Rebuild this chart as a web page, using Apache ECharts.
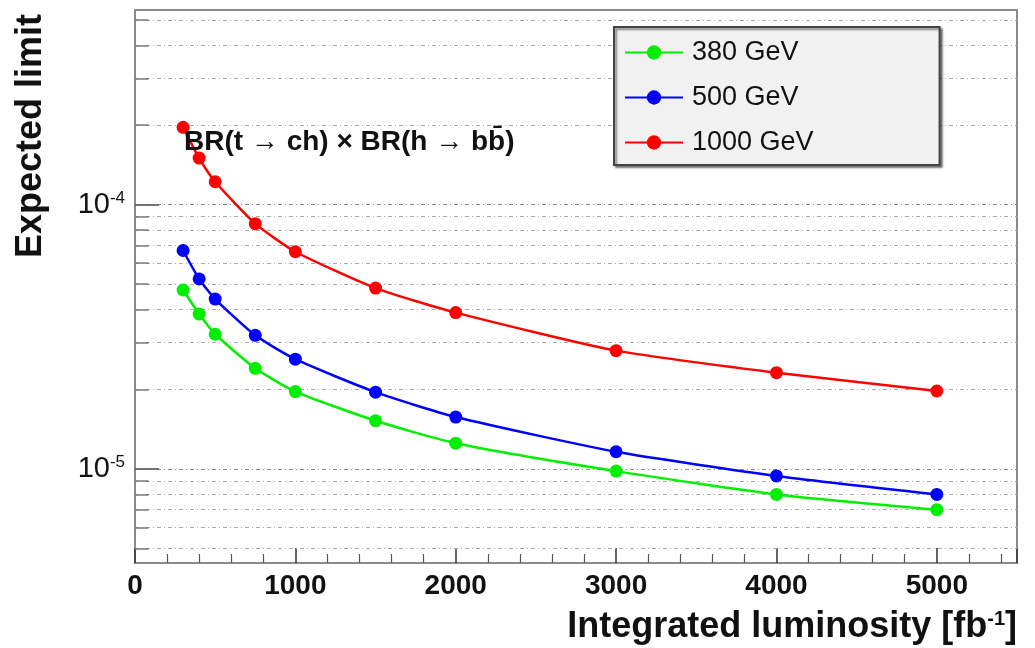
<!DOCTYPE html>
<html>
<head>
<meta charset="utf-8">
<script src="https://cdn.jsdelivr.net/npm/echarts@6/dist/echarts.min.js"></script>
<style>
  html, body { margin: 0; padding: 0; background: #fff; }
  #chart { width: 1035px; height: 648px; }
</style>
</head>
<body>
<div id="chart"></div>
<script>
// Integrated luminosity points (fb^-1)
const luminosity = [300, 400, 500, 750, 1000, 1500, 2000, 3000, 4000, 5000];

// Expected limit on BR(t -> ch) x BR(h -> bb) per centre-of-mass energy
const limit380 = [4.75e-5, 3.85e-5, 3.23e-5, 2.40e-5, 1.96e-5, 1.52e-5, 1.25e-5, 9.8e-6, 8.0e-6, 7.0e-6];
const limit500 = [6.7e-5, 5.23e-5, 4.39e-5, 3.2e-5, 2.6e-5, 1.95e-5, 1.57e-5, 1.16e-5, 9.4e-6, 8.0e-6];
const limit1000 = [1.96e-4, 1.50e-4, 1.22e-4, 8.47e-5, 6.63e-5, 4.83e-5, 3.9e-5, 2.8e-5, 2.31e-5, 1.97e-5];

const seriesNames = ['380 GeV', '500 GeV', '1000 GeV'];
const seriesColors = ['#00ee00', '#0000ff', '#ff0000'];

// Horizontal grid levels on the log axis (decades and their 2..9 subdivisions)
const decadeLevels = [1e-5, 1e-4];
const minorLevels = [5e-6, 6e-6, 7e-6, 8e-6, 9e-6,
                     2e-5, 3e-5, 4e-5, 5e-5, 6e-5, 7e-5, 8e-5, 9e-5,
                     2e-4, 3e-4, 4e-4, 5e-4];

const X_MIN = 0, X_MAX = 5500;
const FONT = 'Liberation Sans, Arial, Helvetica, sans-serif';

const chart = echarts.init(document.getElementById('chart'), null, { renderer: 'canvas' });

function pairUp(ys) {
  return luminosity.map((x, i) => [x, ys[i]]);
}

function hLine(v, x0, x1, style) {
  return [{ coord: [x0, v] }, { coord: [x1, v], lineStyle: style }];
}

const minorGridStyle = { color: '#aaaaaa', width: 1, type: [4, 3, 1, 3] };
const majorGridStyle = { color: '#8c8c8c', width: 1.2, type: [4, 3, 1, 3] };

const gridLineData = []
  .concat(minorLevels.map(v => hLine(v, X_MIN, X_MAX, minorGridStyle)))
  .concat(decadeLevels.map(v => hLine(v, X_MIN, X_MAX, majorGridStyle)));

// short solid ticks on the inner side of the left frame
const leftTickData = []
  .concat(minorLevels.map(v => hLine(v, X_MIN, 85, { color: '#777', width: 1.5, type: 'solid' })))
  .concat(decadeLevels.map(v => hLine(v, X_MIN, 150, { color: '#666', width: 1.8, type: 'solid' })));

const dataSeries = [limit380, limit500, limit1000].map((ys, i) => ({
  name: seriesNames[i],
  type: 'line',
  data: pairUp(ys),
  symbol: 'circle',
  symbolSize: 13,
  smooth: 0.2,
  z: 3,
  itemStyle: { color: seriesColors[i] },
  lineStyle: { color: seriesColors[i], width: 2.5 },
  animation: false
}));

const option = {
  backgroundColor: '#ffffff',
  animation: false,
  grid: {
    left: 135, right: 18, top: 10, bottom: 85,
    show: true,
    borderColor: '#8a8a8a',
    borderWidth: 2,
    backgroundColor: '#ffffff'
  },
  legend: {
    data: seriesNames,
    orient: 'vertical',
    left: 614,
    top: 27,
    padding: [10, 126, 7, 10],
    itemWidth: 58,
    itemHeight: 18,
    itemGap: 14,
    backgroundColor: '#f1f1f1',
    borderColor: '#444',
    borderWidth: 2,
    shadowColor: 'rgba(0,0,0,0.45)',
    shadowOffsetX: 2,
    shadowOffsetY: 2,
    shadowBlur: 2,
    selectedMode: false,
    textStyle: { fontFamily: FONT, fontSize: 27, color: '#111', lineHeight: 31, padding: [0, 0, 0, 4] }
  },
  xAxis: {
    type: 'value',
    min: X_MIN,
    max: X_MAX,
    interval: 1000,
    name: 'Integrated luminosity [fb{sup|-1}]',
    nameLocation: 'end',
    nameGap: 0,
    nameTextStyle: {
      fontFamily: FONT, fontSize: 36, fontWeight: 'bold', color: '#111',
      align: 'right', verticalAlign: 'top', padding: [46, 0, 0, 0],
      rich: {
        sup: { fontFamily: FONT, fontSize: 20, fontWeight: 'bold', color: '#111', verticalAlign: 'top', lineHeight: 20 }
      }
    },
    axisLine: { show: false },
    axisTick: { show: true, inside: true, length: 15, lineStyle: { color: '#333', width: 1.5 } },
    minorTick: { show: true, splitNumber: 5, length: 9, lineStyle: { color: '#555', width: 1.2 } },
    axisLabel: {
      showMaxLabel: false,
      margin: 9,
      formatter: function (v) { return String(v); },
      fontFamily: FONT, fontSize: 28, fontWeight: 'bold', color: '#111'
    },
    splitLine: { show: false }
  },
  yAxis: {
    type: 'log',
    logBase: 10,
    min: 4.4e-6,
    max: 5.45e-4,
    axisLine: { show: false },
    axisTick: { show: false },
    splitLine: { show: false },
    minorTick: { show: false },
    axisLabel: {
      showMinLabel: false,
      showMaxLabel: false,
      margin: 10,
      formatter: function (v) {
        const e = Math.log10(v);
        const r = Math.round(e);
        if (Math.abs(e - r) > 1e-6) return '';
        return '{b|10}{s|' + r + '}';
      },
      rich: {
        b: { fontFamily: FONT, fontSize: 29, color: '#111', lineHeight: 30 },
        s: { fontFamily: FONT, fontSize: 17, color: '#111', lineHeight: 18, verticalAlign: 'top' }
      }
    }
  },
  graphic: [
    {
      type: 'text',
      x: 31, y: 136,
      rotation: Math.PI / 2,
      z: 10,
      style: {
        text: 'Expected limit',
        fontFamily: FONT, fontSize: 36, fontWeight: 'bold', fill: '#111',
        align: 'center', verticalAlign: 'middle'
      }
    },
    {
      type: 'text',
      x: 184, y: 128,
      z: 10,
      style: {
        text: 'BR(t \u2192 ch) \u00d7 BR(h \u2192 bb\u0304)',
        fontFamily: FONT, fontSize: 28, fontWeight: 'bold', fill: '#111',
        align: 'left', verticalAlign: 'top'
      }
    }
  ],
  series: [
    {
      name: 'gridLevels',
      type: 'line',
      data: [],
      z: 1,
      silent: true,
      markLine: {
        z: 1,
        silent: true,
        symbol: ['none', 'none'],
        label: { show: false },
        animation: false,
        data: gridLineData.concat(leftTickData)
      }
    }
  ].concat(dataSeries)
};

chart.setOption(option);
</script>
</body>
</html>
